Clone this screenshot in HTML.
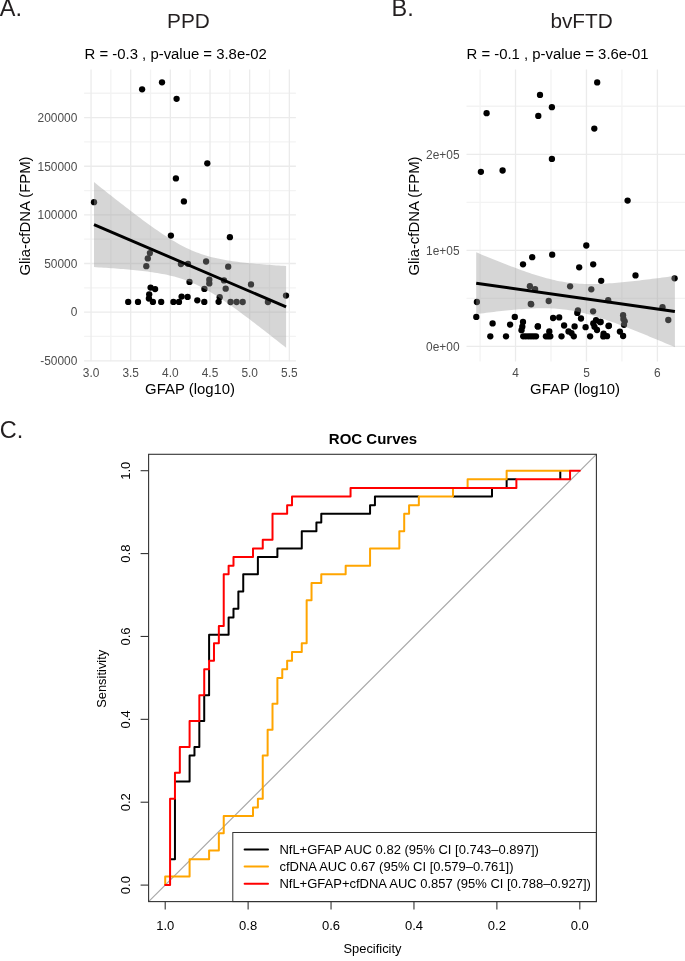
<!DOCTYPE html>
<html><head><meta charset="utf-8"><style>
html,body{margin:0;padding:0;background:#fff;}
body{width:685px;height:961px;overflow:hidden;}
svg{display:block;font-family:"Liberation Sans", sans-serif;will-change:transform;}
</style></head><body>
<svg width="685" height="961" viewBox="0 0 685 961">
<rect width="685" height="961" fill="#fff"/>
<line x1="110.87" y1="69.5" x2="110.87" y2="361.3" stroke="#f3f3f3" stroke-width="1.3"/>
<line x1="150.53" y1="69.5" x2="150.53" y2="361.3" stroke="#f3f3f3" stroke-width="1.3"/>
<line x1="190.19" y1="69.5" x2="190.19" y2="361.3" stroke="#f3f3f3" stroke-width="1.3"/>
<line x1="229.85" y1="69.5" x2="229.85" y2="361.3" stroke="#f3f3f3" stroke-width="1.3"/>
<line x1="269.51" y1="69.5" x2="269.51" y2="361.3" stroke="#f3f3f3" stroke-width="1.3"/>
<line x1="84.1" y1="336.47" x2="295.9" y2="336.47" stroke="#f3f3f3" stroke-width="1.3"/>
<line x1="84.1" y1="287.83" x2="295.9" y2="287.83" stroke="#f3f3f3" stroke-width="1.3"/>
<line x1="84.1" y1="239.19" x2="295.9" y2="239.19" stroke="#f3f3f3" stroke-width="1.3"/>
<line x1="84.1" y1="190.55" x2="295.9" y2="190.55" stroke="#f3f3f3" stroke-width="1.3"/>
<line x1="84.1" y1="141.91" x2="295.9" y2="141.91" stroke="#f3f3f3" stroke-width="1.3"/>
<line x1="84.1" y1="93.27" x2="295.9" y2="93.27" stroke="#f3f3f3" stroke-width="1.3"/>
<line x1="91.04" y1="69.5" x2="91.04" y2="361.3" stroke="#ebebeb" stroke-width="1.3"/>
<line x1="130.7" y1="69.5" x2="130.7" y2="361.3" stroke="#ebebeb" stroke-width="1.3"/>
<line x1="170.36" y1="69.5" x2="170.36" y2="361.3" stroke="#ebebeb" stroke-width="1.3"/>
<line x1="210.02" y1="69.5" x2="210.02" y2="361.3" stroke="#ebebeb" stroke-width="1.3"/>
<line x1="249.68" y1="69.5" x2="249.68" y2="361.3" stroke="#ebebeb" stroke-width="1.3"/>
<line x1="289.34" y1="69.5" x2="289.34" y2="361.3" stroke="#ebebeb" stroke-width="1.3"/>
<line x1="84.1" y1="360.79" x2="295.9" y2="360.79" stroke="#ebebeb" stroke-width="1.3"/>
<line x1="84.1" y1="312.15" x2="295.9" y2="312.15" stroke="#ebebeb" stroke-width="1.3"/>
<line x1="84.1" y1="263.51" x2="295.9" y2="263.51" stroke="#ebebeb" stroke-width="1.3"/>
<line x1="84.1" y1="214.87" x2="295.9" y2="214.87" stroke="#ebebeb" stroke-width="1.3"/>
<line x1="84.1" y1="166.23" x2="295.9" y2="166.23" stroke="#ebebeb" stroke-width="1.3"/>
<line x1="84.1" y1="117.59" x2="295.9" y2="117.59" stroke="#ebebeb" stroke-width="1.3"/>
<circle cx="142.1" cy="89.3" r="3.15" fill="#000"/>
<circle cx="162" cy="82.3" r="3.15" fill="#000"/>
<circle cx="176.6" cy="98.8" r="3.15" fill="#000"/>
<circle cx="207.3" cy="163.3" r="3.15" fill="#000"/>
<circle cx="175.9" cy="178.4" r="3.15" fill="#000"/>
<circle cx="94" cy="202.2" r="3.15" fill="#000"/>
<circle cx="183.9" cy="201.4" r="3.15" fill="#000"/>
<circle cx="170.9" cy="235.6" r="3.15" fill="#000"/>
<circle cx="149.9" cy="253.1" r="3.15" fill="#000"/>
<circle cx="147.8" cy="258.4" r="3.15" fill="#000"/>
<circle cx="146.3" cy="266.2" r="3.15" fill="#000"/>
<circle cx="180.9" cy="264.1" r="3.15" fill="#000"/>
<circle cx="188" cy="263.8" r="3.15" fill="#000"/>
<circle cx="189.5" cy="281.9" r="3.15" fill="#000"/>
<circle cx="206.1" cy="261.5" r="3.15" fill="#000"/>
<circle cx="209.3" cy="279.7" r="3.15" fill="#000"/>
<circle cx="209.3" cy="283.4" r="3.15" fill="#000"/>
<circle cx="204.4" cy="288.9" r="3.15" fill="#000"/>
<circle cx="150.6" cy="287.6" r="3.15" fill="#000"/>
<circle cx="155.1" cy="289.1" r="3.15" fill="#000"/>
<circle cx="149.2" cy="294.3" r="3.15" fill="#000"/>
<circle cx="148.9" cy="298.5" r="3.15" fill="#000"/>
<circle cx="152.9" cy="301.9" r="3.15" fill="#000"/>
<circle cx="128.2" cy="301.9" r="3.15" fill="#000"/>
<circle cx="138" cy="301.9" r="3.15" fill="#000"/>
<circle cx="161.2" cy="301.9" r="3.15" fill="#000"/>
<circle cx="173.4" cy="301.9" r="3.15" fill="#000"/>
<circle cx="179" cy="301.9" r="3.15" fill="#000"/>
<circle cx="181.6" cy="296.6" r="3.15" fill="#000"/>
<circle cx="187.6" cy="296.9" r="3.15" fill="#000"/>
<circle cx="197.3" cy="300.3" r="3.15" fill="#000"/>
<circle cx="204.3" cy="301.9" r="3.15" fill="#000"/>
<circle cx="229.9" cy="237.2" r="3.15" fill="#000"/>
<circle cx="228.2" cy="266.7" r="3.15" fill="#000"/>
<circle cx="224" cy="280.4" r="3.15" fill="#000"/>
<circle cx="225.7" cy="288.7" r="3.15" fill="#000"/>
<circle cx="251" cy="284.4" r="3.15" fill="#000"/>
<circle cx="286" cy="295.6" r="3.15" fill="#000"/>
<circle cx="218.6" cy="301.8" r="3.15" fill="#000"/>
<circle cx="219.7" cy="297.2" r="3.15" fill="#000"/>
<circle cx="230.6" cy="302" r="3.15" fill="#000"/>
<circle cx="236.6" cy="302" r="3.15" fill="#000"/>
<circle cx="242.7" cy="302" r="3.15" fill="#000"/>
<circle cx="267.9" cy="302" r="3.15" fill="#000"/>
<path d="M94,182.11 L96.43,184.05 L98.86,185.99 L101.29,187.92 L103.73,189.85 L106.16,191.78 L108.59,193.7 L111.02,195.62 L113.45,197.53 L115.88,199.43 L118.32,201.33 L120.75,203.23 L123.18,205.12 L125.61,206.99 L128.04,208.87 L130.47,210.73 L132.91,212.58 L135.34,214.42 L137.77,216.26 L140.2,218.07 L142.63,219.88 L145.06,221.67 L147.5,223.45 L149.93,225.2 L152.36,226.94 L154.79,228.66 L157.22,230.35 L159.65,232.02 L162.09,233.66 L164.52,235.27 L166.95,236.85 L169.38,238.39 L171.81,239.89 L174.24,241.35 L176.68,242.77 L179.11,244.14 L181.54,245.45 L183.97,246.72 L186.4,247.93 L188.83,249.08 L191.27,250.17 L193.7,251.21 L196.13,252.18 L198.56,253.1 L200.99,253.96 L203.42,254.77 L205.86,255.52 L208.29,256.23 L210.72,256.88 L213.15,257.5 L215.58,258.07 L218.01,258.6 L220.45,259.1 L222.88,259.57 L225.31,260 L227.74,260.41 L230.17,260.8 L232.6,261.16 L235.04,261.5 L237.47,261.82 L239.9,262.13 L242.33,262.42 L244.76,262.69 L247.19,262.95 L249.63,263.2 L252.06,263.44 L254.49,263.67 L256.92,263.89 L259.35,264.1 L261.78,264.3 L264.22,264.5 L266.65,264.68 L269.08,264.87 L271.51,265.04 L273.94,265.21 L276.37,265.38 L278.81,265.54 L281.24,265.69 L283.67,265.85 L286.1,265.99 L286.1,347.81 L283.67,345.87 L281.24,343.94 L278.81,342.01 L276.37,340.09 L273.94,338.17 L271.51,336.26 L269.08,334.35 L266.65,332.45 L264.22,330.55 L261.78,328.66 L259.35,326.78 L256.92,324.91 L254.49,323.04 L252.06,321.19 L249.63,319.34 L247.19,317.51 L244.76,315.69 L242.33,313.88 L239.9,312.09 L237.47,310.31 L235.04,308.55 L232.6,306.8 L230.17,305.08 L227.74,303.38 L225.31,301.71 L222.88,300.06 L220.45,298.44 L218.01,296.86 L215.58,295.31 L213.15,293.8 L210.72,292.33 L208.29,290.9 L205.86,289.52 L203.42,288.19 L200.99,286.91 L198.56,285.69 L196.13,284.52 L193.7,283.42 L191.27,282.37 L188.83,281.38 L186.4,280.45 L183.97,279.57 L181.54,278.75 L179.11,277.99 L176.68,277.27 L174.24,276.61 L171.81,275.98 L169.38,275.4 L166.95,274.86 L164.52,274.35 L162.09,273.88 L159.65,273.44 L157.22,273.02 L154.79,272.63 L152.36,272.27 L149.93,271.92 L147.5,271.59 L145.06,271.28 L142.63,270.99 L140.2,270.71 L137.77,270.45 L135.34,270.2 L132.91,269.96 L130.47,269.72 L128.04,269.5 L125.61,269.29 L123.18,269.09 L120.75,268.89 L118.32,268.7 L115.88,268.52 L113.45,268.34 L111.02,268.17 L108.59,268 L106.16,267.84 L103.73,267.68 L101.29,267.53 L98.86,267.38 L96.43,267.24 L94,267.09Z" fill="#999999" fill-opacity="0.4"/>
<line x1="94" y1="224.6" x2="286.1" y2="306.9" stroke="#000" stroke-width="2.9"/>
<line x1="480.05" y1="69.5" x2="480.05" y2="361.4" stroke="#f3f3f3" stroke-width="1.3"/>
<line x1="550.99" y1="69.5" x2="550.99" y2="361.4" stroke="#f3f3f3" stroke-width="1.3"/>
<line x1="621.93" y1="69.5" x2="621.93" y2="361.4" stroke="#f3f3f3" stroke-width="1.3"/>
<line x1="466.5" y1="298.38" x2="690" y2="298.38" stroke="#f3f3f3" stroke-width="1.3"/>
<line x1="466.5" y1="202.32" x2="690" y2="202.32" stroke="#f3f3f3" stroke-width="1.3"/>
<line x1="466.5" y1="106.27" x2="690" y2="106.27" stroke="#f3f3f3" stroke-width="1.3"/>
<line x1="515.52" y1="69.5" x2="515.52" y2="361.4" stroke="#ebebeb" stroke-width="1.3"/>
<line x1="586.46" y1="69.5" x2="586.46" y2="361.4" stroke="#ebebeb" stroke-width="1.3"/>
<line x1="657.4" y1="69.5" x2="657.4" y2="361.4" stroke="#ebebeb" stroke-width="1.3"/>
<line x1="466.5" y1="346.4" x2="690" y2="346.4" stroke="#ebebeb" stroke-width="1.3"/>
<line x1="466.5" y1="250.35" x2="690" y2="250.35" stroke="#ebebeb" stroke-width="1.3"/>
<line x1="466.5" y1="154.3" x2="690" y2="154.3" stroke="#ebebeb" stroke-width="1.3"/>
<circle cx="486.6" cy="113.2" r="3.15" fill="#000"/>
<circle cx="540" cy="94.9" r="3.15" fill="#000"/>
<circle cx="551.9" cy="107.2" r="3.15" fill="#000"/>
<circle cx="538.3" cy="115.9" r="3.15" fill="#000"/>
<circle cx="551.9" cy="158.9" r="3.15" fill="#000"/>
<circle cx="480.9" cy="171.8" r="3.15" fill="#000"/>
<circle cx="502.6" cy="170.5" r="3.15" fill="#000"/>
<circle cx="597.2" cy="82.4" r="3.15" fill="#000"/>
<circle cx="594.3" cy="128.6" r="3.15" fill="#000"/>
<circle cx="627.6" cy="200.6" r="3.15" fill="#000"/>
<circle cx="586.3" cy="245.5" r="3.15" fill="#000"/>
<circle cx="579.2" cy="267.3" r="3.15" fill="#000"/>
<circle cx="593.2" cy="264.3" r="3.15" fill="#000"/>
<circle cx="601.2" cy="280.8" r="3.15" fill="#000"/>
<circle cx="635.5" cy="275.4" r="3.15" fill="#000"/>
<circle cx="674.6" cy="278.3" r="3.15" fill="#000"/>
<circle cx="523" cy="264.3" r="3.15" fill="#000"/>
<circle cx="532.2" cy="257.2" r="3.15" fill="#000"/>
<circle cx="552.2" cy="254.7" r="3.15" fill="#000"/>
<circle cx="529.9" cy="286.2" r="3.15" fill="#000"/>
<circle cx="535.1" cy="289.1" r="3.15" fill="#000"/>
<circle cx="570.1" cy="286.3" r="3.15" fill="#000"/>
<circle cx="476.9" cy="302" r="3.15" fill="#000"/>
<circle cx="476.3" cy="316.9" r="3.15" fill="#000"/>
<circle cx="492.6" cy="323.4" r="3.15" fill="#000"/>
<circle cx="490.3" cy="336.3" r="3.15" fill="#000"/>
<circle cx="506" cy="336.3" r="3.15" fill="#000"/>
<circle cx="510.1" cy="324.6" r="3.15" fill="#000"/>
<circle cx="514.8" cy="316.9" r="3.15" fill="#000"/>
<circle cx="523" cy="322" r="3.15" fill="#000"/>
<circle cx="522.3" cy="326.7" r="3.15" fill="#000"/>
<circle cx="521.5" cy="330.2" r="3.15" fill="#000"/>
<circle cx="537.8" cy="326.4" r="3.15" fill="#000"/>
<circle cx="530.8" cy="303.9" r="3.15" fill="#000"/>
<circle cx="591.3" cy="289.3" r="3.15" fill="#000"/>
<circle cx="548.7" cy="301" r="3.15" fill="#000"/>
<circle cx="531.2" cy="304.3" r="3.15" fill="#000"/>
<circle cx="608.2" cy="300.2" r="3.15" fill="#000"/>
<circle cx="577.9" cy="310.4" r="3.15" fill="#000"/>
<circle cx="593.1" cy="311.3" r="3.15" fill="#000"/>
<circle cx="577.3" cy="312.9" r="3.15" fill="#000"/>
<circle cx="553.1" cy="318" r="3.15" fill="#000"/>
<circle cx="559.2" cy="317.4" r="3.15" fill="#000"/>
<circle cx="581" cy="318.5" r="3.15" fill="#000"/>
<circle cx="537.9" cy="326.4" r="3.15" fill="#000"/>
<circle cx="564.1" cy="325.5" r="3.15" fill="#000"/>
<circle cx="574.6" cy="326.4" r="3.15" fill="#000"/>
<circle cx="585.6" cy="327.2" r="3.15" fill="#000"/>
<circle cx="596" cy="320.2" r="3.15" fill="#000"/>
<circle cx="600" cy="322" r="3.15" fill="#000"/>
<circle cx="593.3" cy="323.5" r="3.15" fill="#000"/>
<circle cx="594.5" cy="326.8" r="3.15" fill="#000"/>
<circle cx="597" cy="330" r="3.15" fill="#000"/>
<circle cx="608.5" cy="326.1" r="3.15" fill="#000"/>
<circle cx="568.5" cy="331.4" r="3.15" fill="#000"/>
<circle cx="571.5" cy="333.1" r="3.15" fill="#000"/>
<circle cx="549.3" cy="331.4" r="3.15" fill="#000"/>
<circle cx="662.5" cy="307.2" r="3.15" fill="#000"/>
<circle cx="668.3" cy="320" r="3.15" fill="#000"/>
<circle cx="623.1" cy="315.2" r="3.15" fill="#000"/>
<circle cx="623.4" cy="319" r="3.15" fill="#000"/>
<circle cx="624.7" cy="321.3" r="3.15" fill="#000"/>
<circle cx="624" cy="324.8" r="3.15" fill="#000"/>
<circle cx="600.7" cy="322" r="3.15" fill="#000"/>
<circle cx="608.9" cy="325.7" r="3.15" fill="#000"/>
<circle cx="619.9" cy="331.6" r="3.15" fill="#000"/>
<circle cx="623.1" cy="336" r="3.15" fill="#000"/>
<circle cx="603.6" cy="333.6" r="3.15" fill="#000"/>
<circle cx="603.3" cy="336.4" r="3.15" fill="#000"/>
<circle cx="607" cy="336.2" r="3.15" fill="#000"/>
<circle cx="523.2" cy="336.3" r="3.15" fill="#000"/>
<circle cx="525.8" cy="336.3" r="3.15" fill="#000"/>
<circle cx="528.5" cy="336.3" r="3.15" fill="#000"/>
<circle cx="531" cy="336.3" r="3.15" fill="#000"/>
<circle cx="533.5" cy="336.3" r="3.15" fill="#000"/>
<circle cx="536" cy="336.3" r="3.15" fill="#000"/>
<circle cx="545.9" cy="336.3" r="3.15" fill="#000"/>
<circle cx="548.1" cy="336.3" r="3.15" fill="#000"/>
<circle cx="550.3" cy="336.3" r="3.15" fill="#000"/>
<circle cx="561.5" cy="336.3" r="3.15" fill="#000"/>
<circle cx="573.8" cy="336.3" r="3.15" fill="#000"/>
<circle cx="590.1" cy="336.3" r="3.15" fill="#000"/>
<path d="M476.2,252.29 L478.72,253.34 L481.23,254.38 L483.75,255.41 L486.26,256.45 L488.78,257.47 L491.29,258.49 L493.81,259.51 L496.32,260.52 L498.84,261.52 L501.35,262.52 L503.87,263.51 L506.38,264.49 L508.9,265.46 L511.41,266.42 L513.93,267.37 L516.44,268.31 L518.96,269.24 L521.47,270.15 L523.99,271.05 L526.5,271.93 L529.02,272.8 L531.53,273.64 L534.05,274.47 L536.56,275.27 L539.08,276.04 L541.59,276.8 L544.11,277.52 L546.63,278.21 L549.14,278.87 L551.66,279.5 L554.17,280.08 L556.69,280.63 L559.2,281.14 L561.72,281.61 L564.23,282.04 L566.75,282.42 L569.26,282.77 L571.78,283.06 L574.29,283.32 L576.81,283.53 L579.32,283.71 L581.84,283.84 L584.35,283.94 L586.87,284.01 L589.38,284.04 L591.9,284.04 L594.41,284.01 L596.93,283.95 L599.44,283.87 L601.96,283.77 L604.47,283.64 L606.99,283.5 L609.51,283.34 L612.02,283.16 L614.54,282.96 L617.05,282.76 L619.57,282.54 L622.08,282.3 L624.6,282.06 L627.11,281.81 L629.63,281.55 L632.14,281.28 L634.66,281 L637.17,280.71 L639.69,280.42 L642.2,280.12 L644.72,279.82 L647.23,279.51 L649.75,279.19 L652.26,278.87 L654.78,278.55 L657.29,278.22 L659.81,277.89 L662.32,277.56 L664.84,277.22 L667.35,276.88 L669.87,276.53 L672.38,276.18 L674.9,275.83 L674.9,347.17 L672.38,346.1 L669.87,345.04 L667.35,343.98 L664.84,342.92 L662.32,341.86 L659.81,340.81 L657.29,339.76 L654.78,338.72 L652.26,337.68 L649.75,336.64 L647.23,335.61 L644.72,334.59 L642.2,333.56 L639.69,332.55 L637.17,331.54 L634.66,330.54 L632.14,329.54 L629.63,328.56 L627.11,327.58 L624.6,326.61 L622.08,325.65 L619.57,324.7 L617.05,323.76 L614.54,322.84 L612.02,321.93 L609.51,321.04 L606.99,320.16 L604.47,319.3 L601.96,318.46 L599.44,317.64 L596.93,316.84 L594.41,316.07 L591.9,315.32 L589.38,314.6 L586.87,313.92 L584.35,313.27 L581.84,312.65 L579.32,312.07 L576.81,311.52 L574.29,311.02 L571.78,310.56 L569.26,310.14 L566.75,309.77 L564.23,309.44 L561.72,309.15 L559.2,308.9 L556.69,308.69 L554.17,308.53 L551.66,308.4 L549.14,308.31 L546.63,308.25 L544.11,308.23 L541.59,308.23 L539.08,308.27 L536.56,308.33 L534.05,308.41 L531.53,308.52 L529.02,308.65 L526.5,308.8 L523.99,308.96 L521.47,309.14 L518.96,309.34 L516.44,309.55 L513.93,309.77 L511.41,310.01 L508.9,310.25 L506.38,310.51 L503.87,310.77 L501.35,311.04 L498.84,311.32 L496.32,311.61 L493.81,311.9 L491.29,312.2 L488.78,312.51 L486.26,312.82 L483.75,313.14 L481.23,313.46 L478.72,313.78 L476.2,314.11Z" fill="#999999" fill-opacity="0.4"/>
<line x1="476.2" y1="283.2" x2="674.9" y2="311.5" stroke="#000" stroke-width="2.9"/>
<text x="91.04" y="376.8" font-size="11.9" fill="#4d4d4d" text-anchor="middle" font-weight="normal">3.0</text>
<text x="130.7" y="376.8" font-size="11.9" fill="#4d4d4d" text-anchor="middle" font-weight="normal">3.5</text>
<text x="170.36" y="376.8" font-size="11.9" fill="#4d4d4d" text-anchor="middle" font-weight="normal">4.0</text>
<text x="210.02" y="376.8" font-size="11.9" fill="#4d4d4d" text-anchor="middle" font-weight="normal">4.5</text>
<text x="249.68" y="376.8" font-size="11.9" fill="#4d4d4d" text-anchor="middle" font-weight="normal">5.0</text>
<text x="289.34" y="376.8" font-size="11.9" fill="#4d4d4d" text-anchor="middle" font-weight="normal">5.5</text>
<text x="77.3" y="365.09" font-size="11.9" fill="#4d4d4d" text-anchor="end" font-weight="normal">-50000</text>
<text x="77.3" y="316.45" font-size="11.9" fill="#4d4d4d" text-anchor="end" font-weight="normal">0</text>
<text x="77.3" y="267.81" font-size="11.9" fill="#4d4d4d" text-anchor="end" font-weight="normal">50000</text>
<text x="77.3" y="219.17" font-size="11.9" fill="#4d4d4d" text-anchor="end" font-weight="normal">100000</text>
<text x="77.3" y="170.53" font-size="11.9" fill="#4d4d4d" text-anchor="end" font-weight="normal">150000</text>
<text x="77.3" y="121.89" font-size="11.9" fill="#4d4d4d" text-anchor="end" font-weight="normal">200000</text>
<text x="190.1" y="394" font-size="14.9" fill="#000" text-anchor="middle" font-weight="normal">GFAP (log10)</text>
<text x="30.2" y="216" font-size="14.9" fill="#000" text-anchor="middle" font-weight="normal" transform="rotate(-90 30.2 216)">Glia-cfDNA (FPM)</text>
<text x="188.5" y="27.8" font-size="20.8" fill="#231f20" text-anchor="middle" font-weight="normal">PPD</text>
<text x="84.6" y="59.3" font-size="14.9" fill="#000" text-anchor="start" font-weight="normal">R = -0.3 , p-value = 3.8e-02</text>
<text x="-0.2" y="16.4" font-size="23.5" fill="#231f20" text-anchor="start" font-weight="normal">A.</text>
<text x="515.52" y="376.8" font-size="11.9" fill="#4d4d4d" text-anchor="middle" font-weight="normal">4</text>
<text x="586.46" y="376.8" font-size="11.9" fill="#4d4d4d" text-anchor="middle" font-weight="normal">5</text>
<text x="657.4" y="376.8" font-size="11.9" fill="#4d4d4d" text-anchor="middle" font-weight="normal">6</text>
<text x="459.5" y="351.3" font-size="11.9" fill="#4d4d4d" text-anchor="end" font-weight="normal">0e+00</text>
<text x="459.5" y="255.25" font-size="11.9" fill="#4d4d4d" text-anchor="end" font-weight="normal">1e+05</text>
<text x="459.5" y="159.2" font-size="11.9" fill="#4d4d4d" text-anchor="end" font-weight="normal">2e+05</text>
<text x="575.1" y="394" font-size="14.9" fill="#000" text-anchor="middle" font-weight="normal">GFAP (log10)</text>
<text x="419.3" y="216" font-size="14.9" fill="#000" text-anchor="middle" font-weight="normal" transform="rotate(-90 419.3 216)">Glia-cfDNA (FPM)</text>
<text x="581.6" y="27.8" font-size="20.8" fill="#231f20" text-anchor="middle" font-weight="normal">bvFTD</text>
<text x="466.5" y="59.3" font-size="14.9" fill="#000" text-anchor="start" font-weight="normal">R = -0.1 , p-value = 3.6e-01</text>
<text x="391.5" y="16.3" font-size="23.5" fill="#231f20" text-anchor="start" font-weight="normal">B.</text>
<line x1="148.6" y1="901.6" x2="596.4" y2="454.3" stroke="#a9a9a9" stroke-width="1.2"/>
<path d="M170.08,859.2 L174.96,859.2 L174.96,850.57 L174.96,841.93 L174.96,833.3 L174.96,824.67 L174.96,816.03 L174.96,807.4 L174.96,798.77" fill="none" stroke="#000000" stroke-width="2" stroke-linejoin="round" stroke-linecap="butt"/>
<path d="M174.96,781.5 L179.83,781.5 L184.71,781.5 L189.59,781.5 L189.59,772.87 L189.59,764.23 L189.59,755.6 L194.47,755.6 L194.47,746.97 L199.34,746.97 L199.34,738.33 L199.34,729.7 L199.34,721.07 L204.22,721.07 L204.22,712.43 L204.22,703.8 L204.22,695.17 L209.1,695.17 L209.1,686.53 L209.1,677.9 L209.1,669.27" fill="none" stroke="#000000" stroke-width="2" stroke-linejoin="round" stroke-linecap="butt"/>
<path d="M209.1,660.63 L209.1,652 L209.1,643.37 L209.1,634.73 L213.98,634.73 L218.85,634.73 L223.73,634.73 L228.61,634.73 L228.61,626.1 L228.61,617.47 L233.49,617.47 L233.49,608.83 L238.36,608.83 L238.36,600.2 L238.36,591.57 L243.24,591.57 L243.24,582.93 L243.24,574.3 L248.12,574.3 L253,574.3 L257.88,574.3 L257.88,565.67 L257.88,557.03 L262.75,557.03 L267.63,557.03 L272.51,557.03 L277.39,557.03 L277.39,548.4 L282.26,548.4 L287.14,548.4 L292.02,548.4 L296.9,548.4 L301.77,548.4 L301.77,539.77 L301.77,531.13 L306.65,531.13 L311.53,531.13 L316.41,531.13 L316.41,522.5 L321.28,522.5 L321.28,513.87 L326.16,513.87 L331.04,513.87 L335.92,513.87 L340.8,513.87 L345.67,513.87 L350.55,513.87 L355.43,513.87 L360.31,513.87 L365.18,513.87 L370.06,513.87 L370.06,505.23 L374.94,505.23 L374.94,496.6 L379.82,496.6 L384.69,496.6 L389.57,496.6 L394.45,496.6 L399.33,496.6 L404.2,496.6 L409.08,496.6 L413.96,496.6 L418.84,496.6" fill="none" stroke="#000000" stroke-width="2" stroke-linejoin="round" stroke-linecap="butt"/>
<path d="M452.98,496.6 L457.86,496.6 L462.74,496.6 L467.61,496.6 L472.49,496.6 L477.37,496.6 L482.25,496.6 L487.12,496.6 L492,496.6 L492,487.97" fill="none" stroke="#000000" stroke-width="2" stroke-linejoin="round" stroke-linecap="butt"/>
<path d="M506.64,487.97 L506.64,479.33 L511.51,479.33 L516.39,479.33" fill="none" stroke="#000000" stroke-width="2" stroke-linejoin="round" stroke-linecap="butt"/>
<path d="M560.29,479.33 L560.29,470.7" fill="none" stroke="#000000" stroke-width="2" stroke-linejoin="round" stroke-linecap="butt"/>
<path d="M165.2,885.1 L165.2,876.47 L170.08,876.47 L174.96,876.47 L179.83,876.47 L184.71,876.47 L189.59,876.47 L189.59,867.83 L189.59,859.2 L194.47,859.2 L199.34,859.2 L204.22,859.2 L209.1,859.2 L209.1,850.57 L213.98,850.57 L218.85,850.57 L218.85,841.93 L218.85,833.3 L223.73,833.3 L223.73,824.67 L223.73,816.03 L228.61,816.03 L233.49,816.03 L238.36,816.03 L243.24,816.03 L248.12,816.03 L253,816.03 L253,807.4 L257.88,807.4 L257.88,798.77 L262.75,798.77 L262.75,790.13 L262.75,781.5 L262.75,772.87 L262.75,764.23 L262.75,755.6 L267.63,755.6 L267.63,746.97 L267.63,738.33 L267.63,729.7 L272.51,729.7 L272.51,721.07 L272.51,712.43 L272.51,703.8 L277.39,703.8 L277.39,695.17 L277.39,686.53 L277.39,677.9 L282.26,677.9 L282.26,669.27 L287.14,669.27 L287.14,660.63 L292.02,660.63 L292.02,652 L296.9,652 L301.77,652 L301.77,643.37 L306.65,643.37 L306.65,634.73 L306.65,626.1 L306.65,617.47 L306.65,608.83 L306.65,600.2 L311.53,600.2 L311.53,591.57 L311.53,582.93 L316.41,582.93 L321.28,582.93 L321.28,574.3 L326.16,574.3 L331.04,574.3 L335.92,574.3 L340.8,574.3 L345.67,574.3 L345.67,565.67 L350.55,565.67 L355.43,565.67 L360.31,565.67 L365.18,565.67 L370.06,565.67 L370.06,557.03 L370.06,548.4 L374.94,548.4 L379.82,548.4 L384.69,548.4 L389.57,548.4 L394.45,548.4 L399.33,548.4 L399.33,539.77 L399.33,531.13 L404.2,531.13 L404.2,522.5 L404.2,513.87 L409.08,513.87 L409.08,505.23 L413.96,505.23 L418.84,505.23 L418.84,496.6 L423.72,496.6 L428.59,496.6 L433.47,496.6 L438.35,496.6 L443.23,496.6 L448.1,496.6 L452.98,496.6 L452.98,487.97" fill="none" stroke="#FFA500" stroke-width="2" stroke-linejoin="round" stroke-linecap="butt"/>
<path d="M467.61,487.97 L467.61,479.33 L472.49,479.33 L477.37,479.33 L482.25,479.33 L487.12,479.33 L492,479.33 L496.88,479.33 L501.76,479.33 L506.64,479.33 L506.64,470.7 L511.51,470.7 L516.39,470.7 L521.27,470.7 L526.15,470.7 L531.02,470.7 L535.9,470.7 L540.78,470.7 L545.66,470.7 L550.53,470.7 L555.41,470.7 L560.29,470.7 L565.17,470.7 L570.04,470.7" fill="none" stroke="#FFA500" stroke-width="2" stroke-linejoin="round" stroke-linecap="butt"/>
<path d="M165.2,885.1 L170.08,885.1 L170.08,876.47 L170.08,867.83 L170.08,859.2 L170.08,850.57 L170.08,841.93 L170.08,833.3 L170.08,824.67 L170.08,816.03 L170.08,807.4 L170.08,798.77 L174.96,798.77 L174.96,790.13 L174.96,781.5 L174.96,772.87 L179.83,772.87 L179.83,764.23 L179.83,755.6 L179.83,746.97 L184.71,746.97 L189.59,746.97 L189.59,738.33 L189.59,729.7 L189.59,721.07 L194.47,721.07 L199.34,721.07 L199.34,712.43 L199.34,703.8 L199.34,695.17 L204.22,695.17 L204.22,686.53 L204.22,677.9 L204.22,669.27 L209.1,669.27 L209.1,660.63 L213.98,660.63 L213.98,652 L213.98,643.37 L218.85,643.37 L218.85,634.73 L218.85,626.1 L223.73,626.1 L223.73,617.47 L223.73,608.83 L223.73,600.2 L223.73,591.57 L223.73,582.93 L223.73,574.3 L228.61,574.3 L228.61,565.67 L233.49,565.67 L233.49,557.03 L238.36,557.03 L243.24,557.03 L248.12,557.03 L253,557.03 L253,548.4 L257.88,548.4 L262.75,548.4 L262.75,539.77 L267.63,539.77 L272.51,539.77 L272.51,531.13 L272.51,522.5 L272.51,513.87 L277.39,513.87 L282.26,513.87 L287.14,513.87 L287.14,505.23 L292.02,505.23 L292.02,496.6 L296.9,496.6 L301.77,496.6 L306.65,496.6 L311.53,496.6 L316.41,496.6 L321.28,496.6 L326.16,496.6 L331.04,496.6 L335.92,496.6 L340.8,496.6 L345.67,496.6 L350.55,496.6 L350.55,487.97 L355.43,487.97 L360.31,487.97 L365.18,487.97 L370.06,487.97 L374.94,487.97 L379.82,487.97 L384.69,487.97 L389.57,487.97 L394.45,487.97 L399.33,487.97 L404.2,487.97 L409.08,487.97 L413.96,487.97 L418.84,487.97 L423.72,487.97 L428.59,487.97 L433.47,487.97 L438.35,487.97 L443.23,487.97 L448.1,487.97 L452.98,487.97 L457.86,487.97 L462.74,487.97 L467.61,487.97 L472.49,487.97 L477.37,487.97 L482.25,487.97 L487.12,487.97 L492,487.97 L496.88,487.97 L501.76,487.97 L506.64,487.97 L511.51,487.97 L516.39,487.97 L516.39,479.33 L521.27,479.33 L526.15,479.33 L531.02,479.33 L535.9,479.33 L540.78,479.33 L545.66,479.33 L550.53,479.33 L555.41,479.33 L560.29,479.33 L565.17,479.33 L570.04,479.33 L570.04,470.7 L574.92,470.7 L579.8,470.7" fill="none" stroke="#FF0000" stroke-width="2" stroke-linejoin="round" stroke-linecap="round"/>
<rect x="232.8" y="832.5" width="363.6" height="69.1" fill="#fff" stroke="#333" stroke-width="1"/>
<line x1="244.6" y1="849.5" x2="268" y2="849.5" stroke="#000000" stroke-width="2" stroke-linecap="round"/>
<text x="279.4" y="854.1" font-size="13.0" fill="#000" text-anchor="start" font-weight="normal">NfL+GFAP AUC 0.82 (95% CI [0.743–0.897])</text>
<line x1="244.6" y1="866.6" x2="268" y2="866.6" stroke="#FFA500" stroke-width="2" stroke-linecap="round"/>
<text x="279.4" y="871.2" font-size="13.0" fill="#000" text-anchor="start" font-weight="normal">cfDNA AUC 0.67 (95% CI [0.579–0.761])</text>
<line x1="244.6" y1="883.7" x2="268" y2="883.7" stroke="#FF0000" stroke-width="2" stroke-linecap="round"/>
<text x="279.4" y="888.3" font-size="13.0" fill="#000" text-anchor="start" font-weight="normal">NfL+GFAP+cfDNA AUC 0.857 (95% CI [0.788–0.927])</text>
<rect x="148.6" y="454.3" width="447.8" height="447.3" fill="none" stroke="#333" stroke-width="1.1"/>
<line x1="579.8" y1="901.6" x2="579.8" y2="909.6" stroke="#333" stroke-width="1.1"/>
<text x="579.8" y="929.8" font-size="13.0" fill="#000" text-anchor="middle" font-weight="normal">0.0</text>
<line x1="148.6" y1="885.1" x2="140.6" y2="885.1" stroke="#333" stroke-width="1.1"/>
<text x="129.8" y="885.1" font-size="13.0" fill="#000" text-anchor="middle" font-weight="normal" transform="rotate(-90 129.8 885.1)">0.0</text>
<line x1="496.88" y1="901.6" x2="496.88" y2="909.6" stroke="#333" stroke-width="1.1"/>
<text x="496.88" y="929.8" font-size="13.0" fill="#000" text-anchor="middle" font-weight="normal">0.2</text>
<line x1="148.6" y1="802.22" x2="140.6" y2="802.22" stroke="#333" stroke-width="1.1"/>
<text x="129.8" y="802.22" font-size="13.0" fill="#000" text-anchor="middle" font-weight="normal" transform="rotate(-90 129.8 802.22)">0.2</text>
<line x1="413.96" y1="901.6" x2="413.96" y2="909.6" stroke="#333" stroke-width="1.1"/>
<text x="413.96" y="929.8" font-size="13.0" fill="#000" text-anchor="middle" font-weight="normal">0.4</text>
<line x1="148.6" y1="719.34" x2="140.6" y2="719.34" stroke="#333" stroke-width="1.1"/>
<text x="129.8" y="719.34" font-size="13.0" fill="#000" text-anchor="middle" font-weight="normal" transform="rotate(-90 129.8 719.34)">0.4</text>
<line x1="331.04" y1="901.6" x2="331.04" y2="909.6" stroke="#333" stroke-width="1.1"/>
<text x="331.04" y="929.8" font-size="13.0" fill="#000" text-anchor="middle" font-weight="normal">0.6</text>
<line x1="148.6" y1="636.46" x2="140.6" y2="636.46" stroke="#333" stroke-width="1.1"/>
<text x="129.8" y="636.46" font-size="13.0" fill="#000" text-anchor="middle" font-weight="normal" transform="rotate(-90 129.8 636.46)">0.6</text>
<line x1="248.12" y1="901.6" x2="248.12" y2="909.6" stroke="#333" stroke-width="1.1"/>
<text x="248.12" y="929.8" font-size="13.0" fill="#000" text-anchor="middle" font-weight="normal">0.8</text>
<line x1="148.6" y1="553.58" x2="140.6" y2="553.58" stroke="#333" stroke-width="1.1"/>
<text x="129.8" y="553.58" font-size="13.0" fill="#000" text-anchor="middle" font-weight="normal" transform="rotate(-90 129.8 553.58)">0.8</text>
<line x1="165.2" y1="901.6" x2="165.2" y2="909.6" stroke="#333" stroke-width="1.1"/>
<text x="165.2" y="929.8" font-size="13.0" fill="#000" text-anchor="middle" font-weight="normal">1.0</text>
<line x1="148.6" y1="470.7" x2="140.6" y2="470.7" stroke="#333" stroke-width="1.1"/>
<text x="129.8" y="470.7" font-size="13.0" fill="#000" text-anchor="middle" font-weight="normal" transform="rotate(-90 129.8 470.7)">1.0</text>
<text x="372.5" y="952.7" font-size="12.9" fill="#000" text-anchor="middle" font-weight="normal">Specificity</text>
<text x="106.5" y="678.8" font-size="12.9" fill="#000" text-anchor="middle" font-weight="normal" transform="rotate(-90 106.5 678.8)">Sensitivity</text>
<text x="373" y="443.9" font-size="15.0" fill="#000" text-anchor="middle" font-weight="bold">ROC Curves</text>
<text x="-0.2" y="437.7" font-size="23.5" fill="#231f20" text-anchor="start" font-weight="normal">C.</text>
</svg>
</body></html>
